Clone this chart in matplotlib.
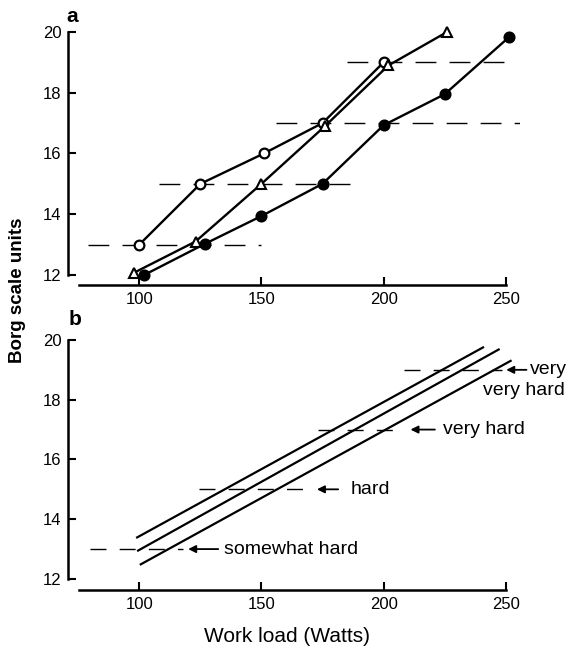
import matplotlib
matplotlib.use("Agg")
import matplotlib.pyplot as plt

plt.rcParams['font.family'] = ['Liberation Sans', 'DejaVu Sans']

# Panel a: three subjects, Borg rating vs work load
open_x = [100, 125, 151, 175, 200]
open_y = [13, 15, 16, 17, 19]
tri_x = [98, 123, 150, 176, 202, 226]
tri_y = [12.08, 13.1, 15, 16.9, 18.9, 20]
dot_x = [102, 127, 150, 175, 200, 225, 251.5]
dot_y = [12, 13.03, 13.94, 15, 16.93, 17.95, 19.84]

# dashed reference levels in panel a
a_levels = [13, 15, 17, 19]
a_start = [79, 108, 156, 185]
a_end = [150, 190, 256, 253]

# Panel b: fitted lines (start and end points)
fit_x0 = [99.1, 99.5, 100.6]
fit_y0 = [13.39, 12.95, 12.49]
fit_x1 = [240.7, 247.1, 252.0]
fit_y1 = [19.75, 19.68, 19.30]

b_levels = [13, 15, 17, 19]
b_start = [80, 124.3, 173, 208.4]
b_end = [118, 170.5, 207.7, 248.5]
arrow_head = [120, 172.7, 211, 250.2]
arrow_tail = [132.3, 181.4, 221, 258.5]
b_labels = ["somewhat hard", "hard", "very hard", "very"]
label_x = [134.5, 186.6, 224.3, 259.8]

yticks = [12, 14, 16, 18, 20]
xticks = [100, 150, 200, 250]

fig = plt.figure(figsize=(5.77, 6.49), dpi=100)
ax_a = fig.add_axes([0.1187, 0.5609, 0.7832, 0.4039])
ax_b = fig.add_axes([0.1187, 0.0909, 0.7832, 0.3991])


def style_axis(ax, ybottom):
    ax.set_xlim(71, 256)
    ax.set_ylim(ybottom, 20.3)
    for side in ["top", "right"]:
        ax.spines[side].set_visible(False)
    for side in ["left", "bottom"]:
        ax.spines[side].set_linewidth(1.8)
    ax.spines["left"].set_bounds(12, 20)
    ax.spines["bottom"].set_bounds(75.4, 250)
    ax.set_xticks(xticks)
    ax.set_yticks(yticks)
    ax.tick_params(direction="in", length=5.5, width=1.5, labelsize=12,
                   pad=5)


style_axis(ax_a, 11.67)
style_axis(ax_b, 11.63)

# panel a
for lev, x0, x1 in zip(a_levels, a_start, a_end):
    ax_a.plot([x0, x1], [lev, lev], color="black", lw=1.0,
              dashes=(15, 9.5))

ax_a.plot(open_x, open_y, color="black", lw=1.7, marker="o", ms=7,
          mfc="white", mew=1.6, clip_on=False, zorder=3)
ax_a.plot(tri_x, tri_y, color="black", lw=1.7, marker="^", ms=7.5,
          mfc="white", mew=1.5, clip_on=False, zorder=3)
ax_a.plot(dot_x, dot_y, color="black", lw=1.7, marker="o", ms=7.5,
          mfc="black", mew=1.2, clip_on=False, zorder=4)

# panel b
for x0, y0, x1, y1 in zip(fit_x0, fit_y0, fit_x1, fit_y1):
    ax_b.plot([x0, x1], [y0, y1], color="black", lw=1.6)

for lev, x0, x1, head, tail, lab, lx in zip(b_levels, b_start, b_end,
                                            arrow_head, arrow_tail,
                                            b_labels, label_x):
    ax_b.plot([x0, x1], [lev, lev], color="black", lw=1.0,
              dashes=(11.5, 9.5))
    ax_b.annotate("", xy=(head, lev), xytext=(tail, lev),
                  arrowprops=dict(arrowstyle="-|>", color="black", lw=1.3,
                                  mutation_scale=11, shrinkA=0, shrinkB=0),
                  annotation_clip=False)
    ax_b.text(lx, lev, lab, fontsize=14, va="center", ha="left")

ax_b.text(274.3, 18.3, "very hard", fontsize=14, va="center", ha="right")

fig.text(0.1248, 0.9753, "a", fontsize=15, fontweight="bold",
         ha="center", va="center")
fig.text(0.13, 0.507, "b", fontsize=15, fontweight="bold",
         ha="center", va="center")
fig.text(0.031, 0.553, "Borg scale units", fontsize=13.5, fontweight="bold",
         rotation=90, ha="center", va="center")
fig.text(0.4969, 1 - 636 / 649, "Work load (Watts)", fontsize=15,
         ha="center", va="center")

fig.savefig("out.png", dpi=100)
